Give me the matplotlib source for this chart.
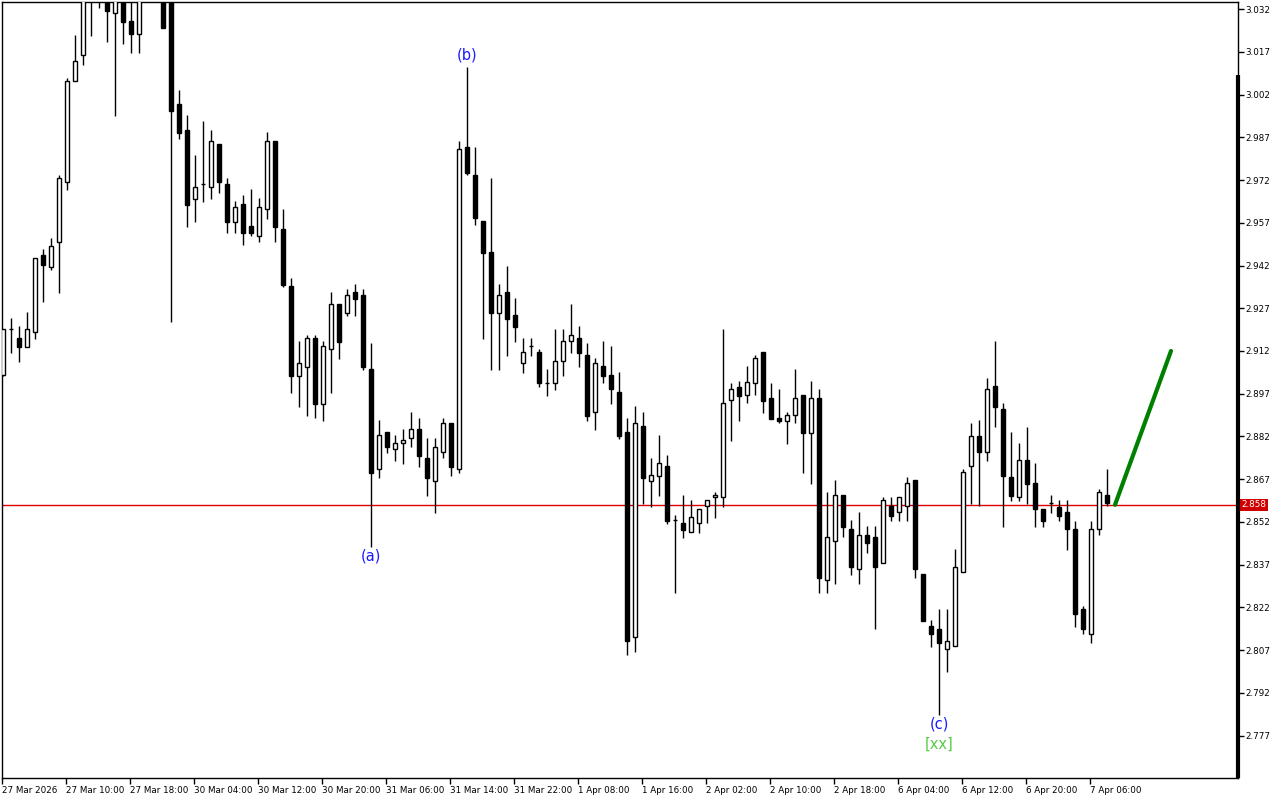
import matplotlib
matplotlib.use("Agg")
import matplotlib.pyplot as plt
import matplotlib.transforms as mtransforms
import numpy as np

# Hourly OHLC bars (price)
opens = [2.9036, 2.9197, 2.9166, 2.9134, 2.9187, 2.9457, 2.9415, 2.9503, 2.9713, 3.0068,
         3.0159, 3.0405, 3.0422, 3.0370, 3.0306, 3.0363, 3.0278, 3.0233, 3.0380, 3.0422,
         3.0380, 3.0348, 2.9987, 2.9896, 2.9654, 2.9706, 2.9696, 2.9847, 2.9706, 2.9573,
         2.9636, 2.9559, 2.9524, 2.9618, 2.9857, 2.9548, 2.9348, 2.9032, 2.9064, 2.9166,
         2.8934, 2.9127, 2.9285, 2.9253, 2.9327, 2.9317, 2.9057, 2.8706, 2.8836, 2.8776,
         2.8797, 2.8815, 2.8846, 2.8744, 2.8664, 2.8765, 2.8867, 2.8706, 2.9836, 2.9738,
         2.9576, 2.9467, 2.9253, 2.9327, 2.9246, 2.9078, 2.9138, 2.9116, 2.9008, 2.9008,
         2.9085, 2.9155, 2.9166, 2.9106, 2.8906, 2.9067, 2.9036, 2.8976, 2.8836, 2.8116,
         2.8857, 2.8664, 2.8681, 2.8716, 2.8527, 2.8516, 2.8485, 2.8516, 2.8576, 2.8608,
         2.8608, 2.8948, 2.8994, 2.8966, 2.9008, 2.9116, 2.8955, 2.8885, 2.8874, 2.8895,
         2.8966, 2.8832, 2.8955, 2.8316, 2.8453, 2.8615, 2.8495, 2.8355, 2.8474, 2.8467,
         2.8376, 2.8576, 2.8555, 2.8576, 2.8667, 2.8337, 2.8155, 2.8144, 2.8074, 2.8085,
         2.8344, 2.8716, 2.8822, 2.8765, 2.8997, 2.8916, 2.8678, 2.8608, 2.8737, 2.8657,
         2.8565, 2.8586, 2.8572, 2.8555, 2.8495, 2.8214, 2.8127, 2.8495, 2.8615]
highs = [2.9197, 2.9236, 2.9208, 2.9257, 2.9446, 2.9478, 2.9517, 2.9738, 3.0078, 3.0229,
         3.0387, 3.0422, 3.0440, 3.0380, 3.0373, 3.0373, 3.0359, 3.0380, 3.0450, 3.0457,
         3.0394, 3.0359, 3.0036, 2.9948, 2.9808, 2.9927, 2.9896, 2.9847, 2.9727, 2.9646,
         2.9668, 2.9689, 2.9657, 2.9889, 2.9857, 2.9618, 2.9376, 2.9155, 2.9176, 2.9176,
         2.9155, 2.9327, 2.9285, 2.9338, 2.9355, 2.9338, 2.9148, 2.8878, 2.8836, 2.8825,
         2.8846, 2.8906, 2.8885, 2.8815, 2.8815, 2.8885, 2.8867, 2.9857, 3.0117, 2.9836,
         2.9576, 2.9727, 2.9355, 2.9418, 2.9306, 2.9166, 2.9166, 2.9127, 2.9057, 2.9197,
         2.9197, 2.9285, 2.9208, 2.9148, 2.9095, 2.9155, 2.9138, 2.9046, 2.8885, 2.8927,
         2.8906, 2.8744, 2.8825, 2.8755, 2.8544, 2.8615, 2.8597, 2.8565, 2.8597, 2.8625,
         2.9197, 2.9008, 2.9015, 2.9067, 2.9106, 2.9116, 2.9008, 2.8987, 2.8906, 2.9057,
         2.8966, 2.9015, 2.8987, 2.8625, 2.8667, 2.8615, 2.8527, 2.8555, 2.8506, 2.8506,
         2.8608, 2.8608, 2.8608, 2.8678, 2.8667, 2.8337, 2.8176, 2.8214, 2.8214, 2.8425,
         2.8706, 2.8867, 2.8878, 2.9025, 2.9155, 2.8937, 2.8836, 2.8797, 2.8853, 2.8727,
         2.8565, 2.8615, 2.8597, 2.8597, 2.8523, 2.8225, 2.8523, 2.8636, 2.8706]
lows = [2.9032, 2.9113, 2.9081, 2.9134, 2.9162, 2.9292, 2.9404, 2.9324, 2.9685, 3.0068,
        3.0124, 3.0226, 3.0324, 3.0205, 2.9945, 3.0198, 3.0166, 3.0166, 3.0366, 3.0370,
        3.0254, 2.9222, 2.9864, 2.9555, 2.9573, 2.9643, 2.9654, 2.9675, 2.9534, 2.9534,
        2.9492, 2.9524, 2.9503, 2.9583, 2.9503, 2.9345, 2.8973, 2.8923, 2.8892, 2.8885,
        2.8874, 2.8973, 2.9092, 2.9243, 2.9243, 2.9053, 2.8432, 2.8674, 2.8762, 2.8734,
        2.8723, 2.8783, 2.8713, 2.8611, 2.8551, 2.8744, 2.8681, 2.8692, 2.9738, 2.9562,
        2.9162, 2.9053, 2.9053, 2.9102, 2.9152, 2.9043, 2.9102, 2.8994, 2.8962, 2.8983,
        2.9032, 2.9113, 2.9064, 2.8874, 2.8843, 2.9008, 2.8934, 2.8811, 2.8053, 2.8063,
        2.8583, 2.8572, 2.8611, 2.8513, 2.8271, 2.8464, 2.8485, 2.8481, 2.8516, 2.8534,
        2.8572, 2.8804, 2.8874, 2.8937, 2.8966, 2.8902, 2.8881, 2.8867, 2.8794, 2.8867,
        2.8692, 2.8653, 2.8271, 2.8271, 2.8302, 2.8467, 2.8334, 2.8302, 2.8411, 2.8144,
        2.8376, 2.8523, 2.8523, 2.8523, 2.8323, 2.8172, 2.8081, 2.7842, 2.7993, 2.8085,
        2.8344, 2.8583, 2.8576, 2.8734, 2.8853, 2.8502, 2.8593, 2.8593, 2.8583, 2.8502,
        2.8502, 2.8551, 2.8523, 2.8421, 2.8151, 2.8127, 2.8095, 2.8474, 2.8576]
closes = [2.9197, 2.9197, 2.9134, 2.9197, 2.9446, 2.9422, 2.9489, 2.9727, 3.0068, 3.0138,
          3.0370, 3.0370, 3.0387, 3.0313, 3.0363, 3.0275, 3.0233, 3.0366, 3.0422, 3.0387,
          3.0254, 2.9962, 2.9885, 2.9632, 2.9696, 2.9706, 2.9857, 2.9713, 2.9573, 2.9625,
          2.9534, 2.9534, 2.9625, 2.9857, 2.9555, 2.9352, 2.9032, 2.9078, 2.9166, 2.8934,
          2.9138, 2.9285, 2.9152, 2.9317, 2.9303, 2.9064, 2.8692, 2.8825, 2.8783, 2.8797,
          2.8808, 2.8846, 2.8751, 2.8674, 2.8783, 2.8867, 2.8713, 2.9829, 2.9745, 2.9587,
          2.9464, 2.9253, 2.9317, 2.9232, 2.9204, 2.9116, 2.9138, 2.9008, 2.9008, 2.9085,
          2.9155, 2.9176, 2.9113, 2.8892, 2.9078, 2.9032, 2.8987, 2.8822, 2.8102, 2.8867,
          2.8674, 2.8685, 2.8727, 2.8523, 2.8527, 2.8492, 2.8537, 2.8565, 2.8597, 2.8615,
          2.8937, 2.8987, 2.8962, 2.9011, 2.9095, 2.8944, 2.8881, 2.8874, 2.8895, 2.8955,
          2.8832, 2.8955, 2.8323, 2.8467, 2.8615, 2.8502, 2.8362, 2.8474, 2.8446, 2.8362,
          2.8597, 2.8541, 2.8608, 2.8657, 2.8355, 2.8172, 2.8127, 2.8095, 2.8102, 2.8362,
          2.8695, 2.8822, 2.8765, 2.8987, 2.8923, 2.8681, 2.8611, 2.8737, 2.8653, 2.8565,
          2.8523, 2.8586, 2.8541, 2.8495, 2.8197, 2.8144, 2.8495, 2.8625, 2.8586]

time_labels = ["27 Mar 2026", "27 Mar 10:00", "27 Mar 18:00", "30 Mar 04:00", "30 Mar 12:00",
               "30 Mar 20:00", "31 Mar 06:00", "31 Mar 14:00", "31 Mar 22:00", "1 Apr 08:00",
               "1 Apr 16:00", "2 Apr 02:00", "2 Apr 10:00", "2 Apr 18:00", "6 Apr 04:00",
               "6 Apr 12:00", "6 Apr 20:00", "7 Apr 06:00"]
price_ticks = [2.777, 2.792, 2.807, 2.822, 2.837, 2.852, 2.867, 2.882, 2.897, 2.912,
               2.927, 2.942, 2.957, 2.972, 2.987, 3.002, 3.017, 3.032]
current_price = 2.858
wave_labels = ["(a)", "(b)", "(c)"]
wave_bars = [46, 58, 117]
wave_at_high = [False, True, False]
degree_label = "[xx]"
forecast_bars = [139, 146]
forecast_prices = [2.858, 2.912]

n = len(opens)
idx = np.arange(n)
o = np.array(opens); h = np.array(highs); l = np.array(lows); c = np.array(closes)

fig = plt.figure(figsize=(12.8, 8.0), dpi=100)
ax = fig.add_axes([2 / 1280, 22 / 800, 1236 / 1280, 776 / 800])
ax.set_xlim(-0.125, 154.375)
ax.set_ylim(2.7621, 3.0345)

# wicks
ax.vlines(idx, l, h, color="black", lw=1.0, zorder=2)
# bodies
up = c >= o
bottoms = np.minimum(o, c)
heights = np.abs(c - o)
heights = np.where(heights < 0.0002, 0.0001, heights)
ax.bar(idx[up], heights[up], bottom=bottoms[up], width=0.6, color="white",
       edgecolor="black", linewidth=1.0, zorder=3)
ax.bar(idx[~up], heights[~up], bottom=bottoms[~up], width=0.6, color="black",
       edgecolor="black", linewidth=1.0, zorder=3)

# current price line
ax.axhline(current_price, color="#e00000", lw=1.0, zorder=1)

# forecast line
ax.plot(forecast_bars, forecast_prices, color="#008000", lw=3, solid_capstyle="round", zorder=4)

# wave labels
for lab, b, at_high in zip(wave_labels, wave_bars, wave_at_high):
    if at_high:
        ax.annotate(lab, (b, h[b]), xytext=(0, 3), textcoords="offset points",
                    ha="center", va="bottom", color="#1a1aff", fontsize=10.5)
    else:
        ax.annotate(lab, (b, l[b]), xytext=(0, -1), textcoords="offset points",
                    ha="center", va="top", color="#1a1aff", fontsize=10.5)
ax.annotate(degree_label, (wave_bars[2], l[wave_bars[2]]), xytext=(0, -16),
            textcoords="offset points", ha="center", va="top", color="#55cc44", fontsize=10.5)

# axes styling
for s in ax.spines.values():
    s.set_color("black")
    s.set_linewidth(1.0)
ax.yaxis.tick_right()
ax.set_yticks(price_ticks)
ax.set_yticklabels([f"{p:.3f}" for p in price_ticks])
ax.tick_params(axis="y", direction="out", length=4, width=1, pad=1, labelsize=6.3, colors="black")
ax.set_xticks([8 * k - 0.125 for k in range(len(time_labels))])
ax.set_xticklabels(time_labels)
ax.tick_params(axis="x", direction="out", length=4, width=1, pad=1.5, labelsize=6.3, colors="black")
for t in ax.get_xticklabels():
    t.set_ha("left")

# thick right bar
ax.plot([1.0, 1.0], [0.0, (778 - 75) / 776], transform=ax.transAxes, color="black",
        lw=3, clip_on=False, zorder=5, solid_capstyle="butt")

# price tag
trans = mtransforms.blended_transform_factory(ax.transAxes, ax.transData)
ax.text(1.003, current_price, f"{current_price:.3f}", transform=trans, ha="left", va="center",
        color="white", fontsize=6.3,
        bbox=dict(boxstyle="square,pad=0.15", facecolor="#d00000", edgecolor="none"), zorder=6)

fig.savefig("out.png", dpi=100, facecolor="white")
